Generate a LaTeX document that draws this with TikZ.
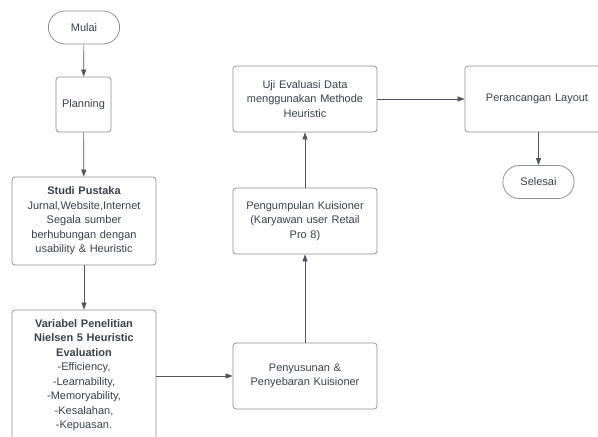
\documentclass[tikz,border=0pt]{standalone}
\usepackage{fontspec}
\setmainfont{Liberation Sans}
\usetikzlibrary{arrows.meta,shapes.misc}
\definecolor{txt}{HTML}{3A404C}
\definecolor{edge}{HTML}{50555F}
\definecolor{bord}{HTML}{8C9099}
\tikzset{
  box/.style={draw=bord, line width=0.8pt, rounded corners=3pt, fill=white, text=txt,
    align=center, inner sep=2pt, font=\fontsize{11}{14.5}\selectfont},
  term/.style={draw=bord, line width=0.8pt, rounded rectangle, fill=white, text=txt,
    font=\fontsize{11}{14.5}\selectfont, minimum width=78pt, minimum height=33pt},
  conn/.style={draw=edge, line width=0.7pt, -{Triangle[length=7pt,width=5pt]}},
}
\begin{document}
\begin{tikzpicture}[x=1pt,y=-1pt]
\clip (0,0) rectangle (598,437);
\fill[white] (0,0) rectangle (598,437);
\node[term] (mulai) at (84,27.5) {Mulai};
\node[box, minimum width=55pt, minimum height=55pt] (plan) at (83.5,104.5) {Planning};
\node[box, minimum width=144pt, minimum height=88pt, text width=138pt] (studi) at (84,221)
  {\textbf{Studi Pustaka}\\Jurnal,Website,Internet\\Segala sumber\\berhubungan dengan\\usability \& Heuristic};
\node[box, minimum width=144pt, minimum height=130pt, text width=138pt] (var) at (84,375)
  {\textbf{Variabel Penelitian}\\\textbf{Nielsen 5 Heuristic}\\\textbf{Evaluation}\\-Efficiency,\\-Learnability,\\-Memoryability,\\-Kesalahan,\\-Kepuasan.};
\node[box, minimum width=144pt, minimum height=66pt, text width=138pt] (pen) at (305,376)
  {Penyusunan \&\\Penyebaran Kuisioner};
\node[box, minimum width=144pt, minimum height=66pt, text width=138pt] (kum) at (305,221)
  {Pengumpulan Kuisioner\\(Karyawan user Retail\\Pro 8)};
\node[box, minimum width=144pt, minimum height=66pt, text width=138pt] (uji) at (305,99)
  {Uji Evaluasi Data\\menggunakan Methode\\Heuristic};
\node[box, minimum width=144pt, minimum height=66pt, text width=138pt] (ran) at (537,99)
  {Perancangan Layout};
\node[term] (sel) at (538.5,182) {Selesai};
\draw[conn] (mulai) -- (plan);
\draw[conn] (plan) -- (studi);
\draw[conn] (studi) -- (var);
\draw[conn] (var.east |- pen.west) -- (pen.west);
\draw[conn] (pen) -- (kum);
\draw[conn] (kum) -- (uji);
\draw[conn] (uji) -- (ran);
\draw[conn] (ran.south -| sel.north) -- (sel.north);
\end{tikzpicture}
\end{document}
